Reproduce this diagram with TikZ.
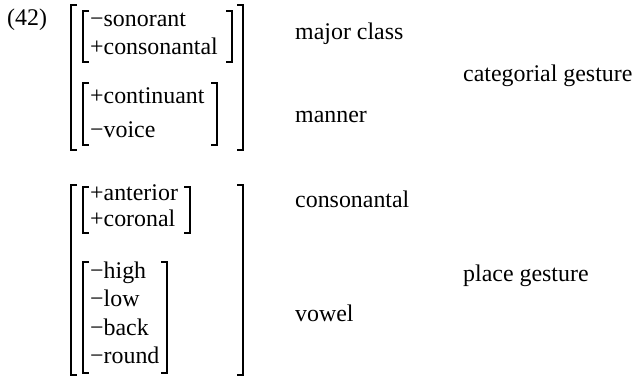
\documentclass[tikz,border=0pt]{standalone}
\usepackage{fontspec}
\setmainfont{Liberation Serif}
\begin{document}
\begin{tikzpicture}[x={(1pt,0)},y={(0,-1pt)},
  txt/.style={anchor=base west,inner sep=0pt,font=\fontsize{23.9}{28}\selectfont},
  brk/.style={line width=1.4pt,line cap=butt,line join=miter}]
\useasboundingbox (0,0) rectangle (635,379);
% number
\node[txt] (num) at (7,26) {(42)};
% features
\node[txt] (f1) at (90,27) {−sonorant};
\node[txt] (f2) at (90,55) {+consonantal};
\node[txt] (f3) at (90,104) {+continuant};
\node[txt] (f4) at (90,138) {−voice};
\node[txt] (f5) at (90,201) {+anterior};
\node[txt] (f6) at (90,227) {+coronal};
\node[txt] (f7) at (90,279) {−high};
\node[txt] (f8) at (90,307) {−low};
\node[txt] (f9) at (90,336) {−back};
\node[txt] (f10) at (90,364) {−round};
% labels
\node[txt] (l1) at (295,40) {major class};
\node[txt] (l2) at (295,123) {manner};
\node[txt] (l3) at (295,208) {consonantal};
\node[txt] (l4) at (295,322) {vowel};
\node[txt] (g1) at (463,82) {categorial gesture};
\node[txt] (g2) at (463,282) {place gesture};
% brackets: left x, right x, top, bottom
\newcommand{\brpair}[4]{%
  \draw[brk] (#1+6,#3) -- (#1,#3) -- (#1,#4) -- (#1+6,#4);
  \draw[brk] (#2-6,#3) -- (#2,#3) -- (#2,#4) -- (#2-6,#4);}
\brpair{71}{243}{5}{150}
\brpair{83}{232}{11}{62}
\brpair{83}{217}{83}{145}
\brpair{71}{243}{185}{375}
\brpair{83}{190}{187}{233}
\brpair{83}{167}{262}{373}
\end{tikzpicture}
\end{document}
